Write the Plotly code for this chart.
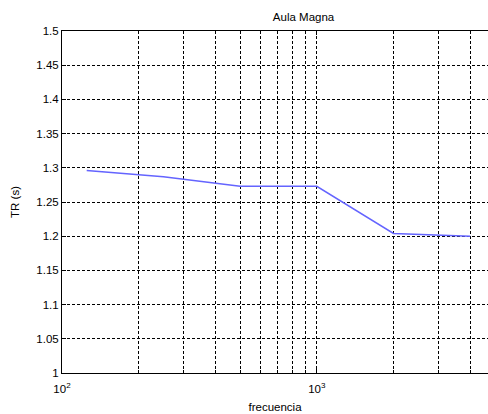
import plotly.graph_objects as go

freq = [125, 250, 500, 1000, 2000, 4000]
tr = [1.296, 1.287, 1.273, 1.273, 1.204, 1.200]

x_major_vals = [100, 1000]
x_major_text = ["10<sup>2</sup>", "10<sup>3</sup>"]
x_minor_vals = [200, 300, 400, 500, 600, 700, 800, 900, 2000, 3000, 4000]
y_tickvals = [1.0, 1.05, 1.1, 1.15, 1.2, 1.25, 1.3, 1.35, 1.4, 1.45, 1.5]
y_ticktext = ["1", "1.05", "1.1", "1.15", "1.2", "1.25", "1.3", "1.35", "1.4", "1.45", "1.5"]

fig = go.Figure()
fig.add_trace(go.Scatter(x=freq, y=tr, mode="lines",
                         line=dict(color="rgb(100,100,255)", width=1.5),
                         showlegend=False))

font = dict(family="Liberation Sans, Arial, sans-serif", size=11, color="black")

fig.update_layout(
    width=488, height=414,
    margin=dict(l=62, r=0, t=31, b=41),
    paper_bgcolor="white", plot_bgcolor="white",
    font=font,
    title=dict(text="Aula Magna", x=(276.7) / 488, xref="paper", xanchor="center",
               y=1 - 16.5 / 414, yanchor="middle", font=dict(size=11.5)),
    xaxis=dict(type="log", range=[2, 3.672],
               tickvals=x_major_vals, ticktext=x_major_text,
               showgrid=True, gridcolor="black", griddash="3px,2px", gridwidth=1,
               minor=dict(tickvals=x_minor_vals, showgrid=True, gridcolor="black",
                          griddash="3px,2px", gridwidth=1,
                          ticks="inside", ticklen=3, tickcolor="black"),
               showline=True, linecolor="black", linewidth=1, mirror="ticks",
               ticks="inside", ticklen=4, tickcolor="black",
               ticklabelstandoff=5,
               zeroline=False,
               title=dict(text="frecuencia", standoff=9, font=dict(size=11.5)),
               tickfont=dict(size=11.5)),
    yaxis=dict(range=[1.0, 1.5],
               tickvals=y_tickvals, ticktext=y_ticktext,
               showgrid=True, gridcolor="black", griddash="3px,2px", gridwidth=1,
               showline=True, linecolor="black", linewidth=1, mirror=False,
               ticks="inside", ticklen=4, tickcolor="black",
               zeroline=False,
               title=dict(text="TR (s)", standoff=14, font=dict(size=11.5)),
               tickfont=dict(size=11.5)),
)

fig.write_html("out.html", config={"displayModeBar": False},
               post_script="document.body.style.margin='0';document.body.style.overflow='hidden';")
